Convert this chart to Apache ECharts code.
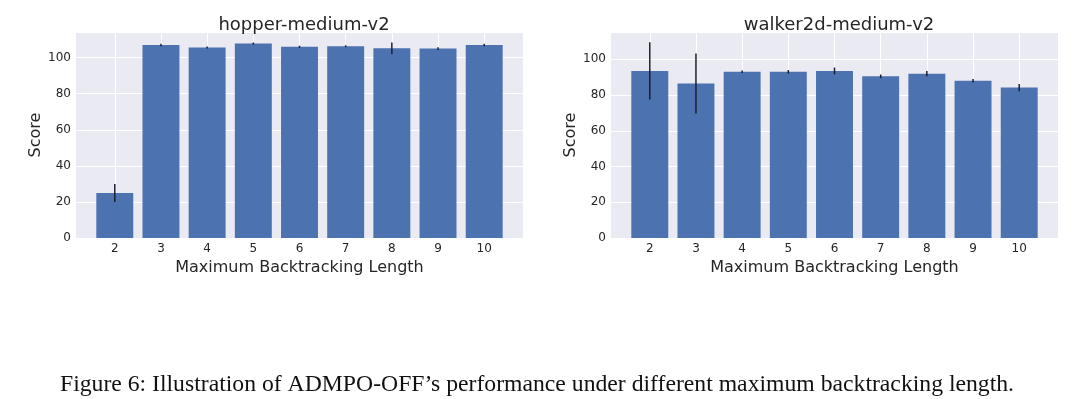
<!DOCTYPE html>
<html>
<head>
<meta charset="utf-8">
<script src="https://cdn.jsdelivr.net/npm/echarts@6/dist/echarts.min.js"></script>
<style>
html, body { margin: 0; padding: 0; background: #fff; }
#main { width: 1080px; height: 399px; }
</style>
</head>
<body>
<div id="main"></div>
<script>
// backtracking lengths on the x axis
var lengths = [2, 3, 4, 5, 6, 7, 8, 9, 10];
// hopper-medium-v2
var hopperScore = [25, 107, 105.6, 107.8, 106, 106.3, 105.2, 105, 107];
var hopperErr = [5, 0.7, 0.5, 0.6, 0.6, 0.5, 3.2, 0.8, 0.7];
// walker2d-medium-v2
var walkerScore = [93.5, 86.5, 93, 93, 93.5, 90.5, 92, 88, 84.2];
var walkerErr = [16, 16.8, 0.7, 1, 1.9, 1, 1.5, 1, 2];
var yTicks = [0, 20, 40, 60, 80, 100];

var chart = echarts.init(document.getElementById('main'));

var fontSans = 'DejaVu Sans';
var textColor = '#262626';

function toBars(scores) {
    return lengths.map(function (x, i) { return [x, scores[i]]; });
}
function toErr(scores, errs) {
    return lengths.map(function (x, i) { return [x, scores[i] - errs[i], scores[i] + errs[i]]; });
}

//误差线
function renderErr(params, api) {
    var x = api.value(0);
    var p1 = api.coord([x, api.value(1)]);
    var p2 = api.coord([x, api.value(2)]);
    return {
        type: 'line',
        shape: {x1: p1[0], y1: p1[1], x2: p2[0], y2: p2[1]},
        style: {stroke: '#1a1f2e', lineWidth: 1.5}
    };
}

function makeX(idx) {
    return {
        gridIndex: idx,
        type: 'value',
        min: 1.16,
        max: 10.84,
        name: 'Maximum Backtracking Length',
        nameLocation: 'middle',
        nameGap: 18,
        nameTextStyle: {color: textColor, fontSize: 16, fontFamily: fontSans},
        axisLine: {show: false},
        axisTick: {show: false, customValues: lengths},
        axisLabel: {customValues: lengths, color: textColor, fontSize: 12, fontFamily: fontSans, margin: 5},
        splitLine: {show: true, lineStyle: {color: '#ffffff', width: 1}}
    };
}
function makeY(idx, max) {
    return {
        gridIndex: idx,
        type: 'value',
        min: 0,
        max: max,
        interval: 20,
        name: 'Score',
        nameLocation: 'middle',
        nameGap: 31,
        nameTextStyle: {color: textColor, fontSize: 16, fontFamily: fontSans},
        axisLine: {show: false},
        axisTick: {show: false},
        axisLabel: {showMaxLabel: false, color: textColor, fontSize: 12, fontFamily: fontSans, margin: 5},
        splitLine: {show: true, lineStyle: {color: '#ffffff', width: 1}}
    };
}

var option = {
    backgroundColor: '#ffffff',
    animation: false,
    title: [
        {text: 'hopper-medium-v2', left: 299, top: 11, textAlign: 'center',
            textStyle: {color: textColor, fontSize: 18, fontWeight: 'normal', fontFamily: fontSans}},
        {text: 'walker2d-medium-v2', left: 834, top: 11, textAlign: 'center',
            textStyle: {color: textColor, fontSize: 18, fontWeight: 'normal', fontFamily: fontSans}},
        {text: 'Figure 6: Illustration of ADMPO-OFF\u2019s performance under different maximum backtracking length.',
            left: 532, top: 368, textAlign: 'center',
            textStyle: {color: '#111', fontSize: 23.7, fontWeight: 'normal', fontFamily: 'Liberation Serif'}}
    ],
    grid: [
        {left: 76, top: 32, width: 447, height: 206, show: true, backgroundColor: '#eaeaf2', borderWidth: 0},
        {left: 611, top: 32, width: 447, height: 206, show: true, backgroundColor: '#eaeaf2', borderWidth: 0}
    ],
    xAxis: [makeX(0), makeX(1)],
    yAxis: [makeY(0, 114.2), makeY(1, 115.3)],
    series: [
        {type: 'bar', xAxisIndex: 0, yAxisIndex: 0, data: toBars(hopperScore), barWidth: '80%',
            itemStyle: {color: '#4c72b0'}},
        {type: 'custom', xAxisIndex: 0, yAxisIndex: 0, data: toErr(hopperScore, hopperErr),
            renderItem: renderErr, encode: {x: 0, y: [1, 2]}, z: 5},
        {type: 'bar', xAxisIndex: 1, yAxisIndex: 1, data: toBars(walkerScore), barWidth: '80%',
            itemStyle: {color: '#4c72b0'}},
        {type: 'custom', xAxisIndex: 1, yAxisIndex: 1, data: toErr(walkerScore, walkerErr),
            renderItem: renderErr, encode: {x: 0, y: [1, 2]}, z: 5}
    ]
};

chart.setOption(option);
</script>
</body>
</html>
